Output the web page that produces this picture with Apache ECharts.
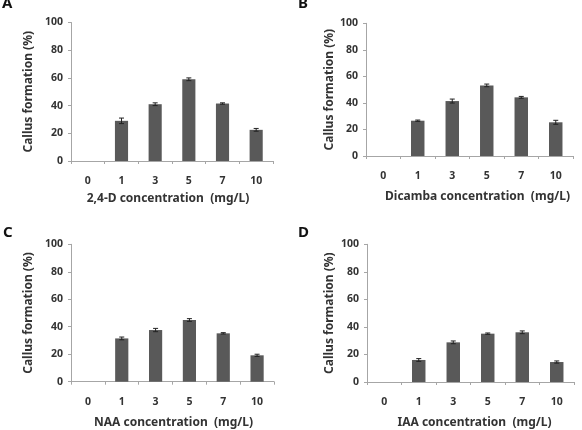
<!DOCTYPE html>
<html><head><meta charset="utf-8">
<script src="https://cdn.jsdelivr.net/npm/echarts@6/dist/echarts.min.js"></script>
<style>html,body{margin:0;padding:0;background:#fff}#c{width:582px;height:430px}</style>
</head><body><div id="c"></div>
<script>
const categories = ['0','1','3','5','7','10'];
const yTicks = [0,20,40,60,80,100];
const panelLabels = ['A','B','C','D'];
const xTitles = ['2,4-D concentration  (mg/L)','Dicamba concentration  (mg/L)','NAA concentration  (mg/L)','IAA concentration  (mg/L)'];
const yTitle = 'Callus formation (%)';
const valuesA = [0, 29, 41, 59, 41.5, 22.5];
const errorsA = [0, 2, 1, 1, 0.5, 1];
const valuesB = [0, 26.6, 41.4, 53.2, 44.2, 25.4];
const errorsB = [0, 0.5, 1.5, 1, 0.7, 1.5];
const valuesC = [0, 31.5, 37.6, 44.9, 35.2, 19.2];
const errorsC = [0, 1, 1.2, 1, 0.5, 0.8];
const valuesD = [0, 16, 28.8, 35.1, 36.1, 14.5];
const errorsD = [0, 1, 1, 0.5, 1, 0.8];
const allValues = [valuesA, valuesB, valuesC, valuesD];
const allErrors = [errorsA, errorsB, errorsC, errorsD];

const grids = [
  {left:71, top:22.5, width:202, height:138.5},
  {left:366, top:23.3, width:207, height:132.7},
  {left:71, top:244.3, width:203, height:137.4},
  {left:367, top:244.3, width:207, height:137.7}
];
const xNameGap = [32, 35, 35, 35];
const yNameGap = [36, 30, 36, 31];
const xNamePad = [[0,8,0,0],[0,0,0,16],[0,0,0,2],[0,0,0,8]];
const labelPos = [[2,-4],[298,-4],[3,225],[298,225]];

const font = "'Noto Sans', 'DejaVu Sans', sans-serif";
const axisColor = '#a6a6a6';
const textColor = '#333';

const option = {
  animation:false,
  backgroundColor:'#fff',
  title: panelLabels.map((t,i)=>({text:t,left:labelPos[i][0],top:labelPos[i][1],padding:0,
    textStyle:{fontFamily:font,fontWeight:'bold',fontSize:15,color:'#111'}})),
  grid: grids.map(g=>Object.assign({containLabel:false}, g)),
  xAxis: grids.map((g,i)=>({
    type:'category', gridIndex:i, data:categories,
    name:xTitles[i], nameLocation:'middle', nameGap:xNameGap[i],
    nameTextStyle:{fontFamily:font,fontWeight:'bold',fontSize:12,color:textColor,padding:xNamePad[i]},
    axisLine:{lineStyle:{color:axisColor,width:1}},
    axisTick:{show:true,interval:0,length:3,inside:false,lineStyle:{color:axisColor}},
    axisLabel:{interval:0,margin:15,fontFamily:font,fontWeight:'bold',fontSize:10.5,color:textColor},
    splitLine:{show:false}
  })),
  yAxis: grids.map((g,i)=>({
    type:'value', gridIndex:i, min:0, max:100, interval:20,
    name:yTitle, nameLocation:'middle', nameGap:yNameGap[i], nameRotate:90,
    nameTextStyle:{fontFamily:font,fontWeight:'bold',fontSize:12,color:textColor},
    axisLine:{show:true,lineStyle:{color:axisColor,width:1}},
    axisTick:{show:true,length:3,lineStyle:{color:axisColor}},
    axisLabel:{margin:8,fontFamily:font,fontWeight:'bold',fontSize:10.5,color:textColor,
      formatter:v=>yTicks.includes(v)?String(v):''},
    splitLine:{show:false}
  })),
  series: []
};
allValues.forEach((vals,i)=>{
  option.series.push({
    type:'bar', xAxisIndex:i, yAxisIndex:i, data:vals, barWidth:'39%',
    itemStyle:{color:'#595959', borderWidth:0}
  });
  option.series.push({
    type:'custom', xAxisIndex:i, yAxisIndex:i,
    data: vals.map((v,k)=>[k, v, allErrors[i][k]]),
    renderItem:(params, api)=>{
      const x = api.value(0), v = api.value(1), e = api.value(2);
      if (!v) return null;
      const hi = api.coord([x, v+e]);
      const lo = api.coord([x, v-e]);
      const hw = 2.5;
      const st = {stroke:'#222', lineWidth:1};
      return {type:'group', children:[
        {type:'line', shape:{x1:hi[0],y1:hi[1],x2:lo[0],y2:lo[1]}, style:st},
        {type:'line', shape:{x1:hi[0]-hw,y1:hi[1],x2:hi[0]+hw,y2:hi[1]}, style:st},
        {type:'line', shape:{x1:lo[0]-hw,y1:lo[1],x2:lo[0]+hw,y2:lo[1]}, style:st}
      ]};
    },
    z:5
  });
});
const chart = echarts.init(document.getElementById('c'), null, {renderer:'canvas'});
chart.setOption(option);
</script></body></html>
